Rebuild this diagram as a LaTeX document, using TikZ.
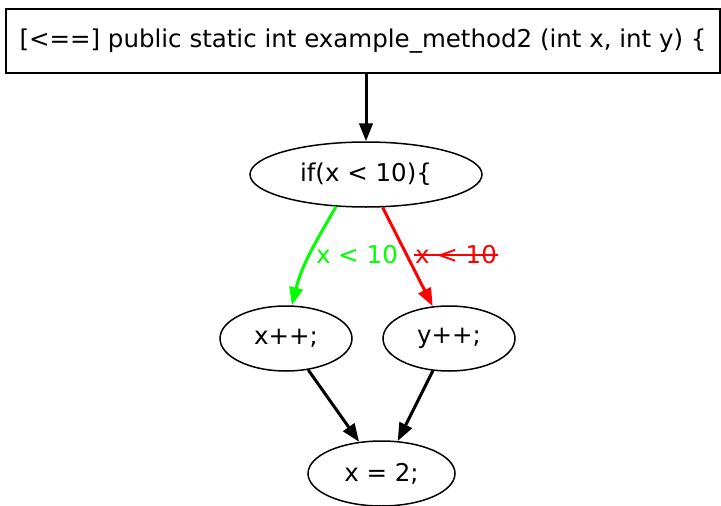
\documentclass[tikz,border=0pt]{standalone}
\usepackage{fontspec}
\setmainfont{DejaVu Sans}
\usepackage{tikz}
\usetikzlibrary{arrows.meta,positioning,calc,shapes.geometric}
\definecolor{truegreen}{RGB}{0,255,0}
\definecolor{falsered}{RGB}{255,0,0}

\begin{document}
\begin{tikzpicture}[x=1pt,y=1pt,font=\fontsize{24.5}{28}\selectfont,>={Triangle[length=18pt,width=13.5pt]}]
\tikzset{head/.style={draw,line width=1.5pt,minimum width=714pt,minimum height=64pt,inner sep=0pt},
  stmt/.style={draw,ellipse,line width=1.5pt,inner sep=0pt,minimum height=65pt},
  flow/.style={->,line width=3pt},
  yes/.style={flow,draw=truegreen},
  no/.style={flow,draw=falsered}}
\useasboundingbox (0,0) rectangle (721,-506);
\node[head] (sig) at (363,-41) {[<==] public static int example\_method2 (int x, int y) \{};
\node[stmt,minimum width=232pt] (cond) at (366,-174.5) {if(x < 10)\{};
\node[stmt,minimum width=132pt] (incx) at (286,-338.5) {x++;};
\node[stmt,minimum width=132pt] (incy) at (449,-338.5) {y++;};
\node[stmt,minimum width=147pt] (asgn) at (381.5,-473.5) {x = 2;};
\draw[flow] (cond.north |- sig.south) -- (cond);
\draw[yes] (cond.227) to[out=-120,in=76] (incx.80);
\draw[no] (cond) -- (incy);
\foreach \n in {incx,incy}{\draw[flow] (\n) -- (asgn);}
% branch labels
\node[text=truegreen,inner sep=0pt] (ylbl) at (357,-255) {x < 10};
\node[text=falsered,inner ysep=0pt,inner xsep=1pt] (nlbl) at (456,-255) {x < 10};
\draw[line width=2pt,falsered] (nlbl.west) -- (nlbl.east);
\end{tikzpicture}
\end{document}
